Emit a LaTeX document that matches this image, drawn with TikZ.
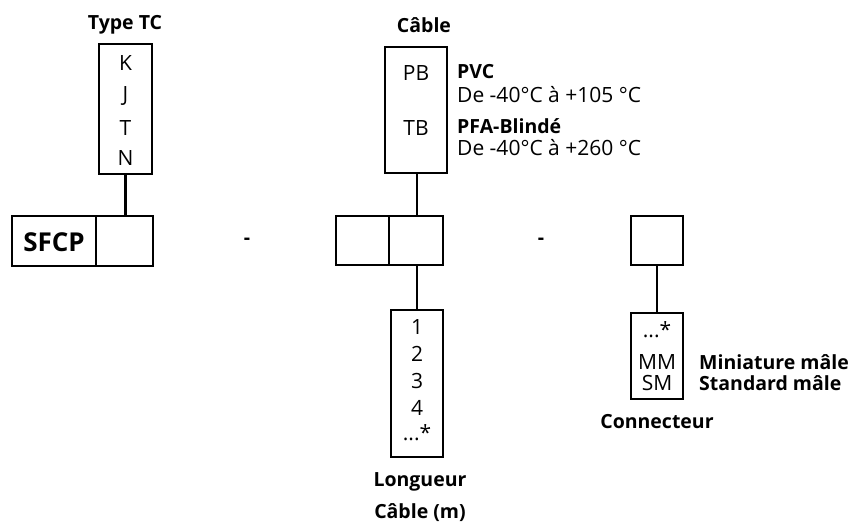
\documentclass[tikz,border=0pt]{standalone}
\usepackage{fontspec}
\setmainfont{Open Sans}
\tikzset{
  box/.style={draw, line width=2.6pt, minimum width=0pt, inner sep=0pt},
  lnk/.style={line width=2.6pt},
  txt/.style={inner sep=0pt, font=\fontsize{21}{24}\selectfont},
  lbl/.style={inner sep=0pt, font=\fontsize{19.5}{24}\selectfont\bfseries},
}
\begin{document}
\begin{tikzpicture}[x=1pt,y=-1pt]
\useasboundingbox (0,0) rectangle (850,524);
% Type TC
\node[lbl] (ttcl) at (125,25) {Type TC};
\draw[box] (99,44) rectangle (152,174);
\coordinate (ttcb) at (125.5,174);
\node[txt] (k) at (125.5,63) {K};
\node[txt] (j) at (125.5,96) {J};
\node[txt] (t) at (125.5,128) {T};
\node[txt] (n) at (125.5,158) {N};
% SFCP
\draw[box] (12,216) rectangle (153,266);
\draw[lnk] (96,216) -- (96,266);
\node[inner sep=0pt, font=\fontsize{26}{30}\selectfont\bfseries] (sfcp) at (54,242) {SFCP};
\coordinate (sfcpt) at (125.5,216);
\draw[lnk] (ttcb) -- (sfcpt);
\node[lbl] (d1) at (247,241) {-};
% Cable
\node[lbl] (cabl) at (424,25) {Câble};
\draw[box] (385,47) rectangle (447,173);
\coordinate (cabb) at (417,173);
\node[txt] (pb) at (416,73) {PB};
\node[txt] (tb) at (416,128) {TB};
\node[lbl, anchor=west] (pvc) at (457,72) {PVC};
\node[txt, anchor=west] (pvct) at (457,95) {De -40°C à +105 °C};
\node[lbl, anchor=west] (pfa) at (457,126) {PFA-Blindé};
\node[txt, anchor=west] (pfat) at (457,148) {De -40°C à +260 °C};
% middle row
\draw[box] (336,216) rectangle (443,265);
\draw[lnk] (389,216) -- (389,265);
\coordinate (midt) at (417,216);
\coordinate (midb) at (417,265);
\draw[lnk] (cabb) -- (midt);
% length box
\draw[box] (391,310) rectangle (443,457);
\coordinate (lent) at (417,310);
\draw[lnk] (midb) -- (lent);
\node[txt] (l1) at (417,327) {1};
\node[txt] (l2) at (417,354) {2};
\node[txt] (l3) at (417,381) {3};
\node[txt] (l4) at (417,408) {4};
\node[txt] (l5) at (417,433) {...*};
\node[lbl] (lenl1) at (420,482) {Longueur};
\node[lbl] (lenl2) at (420,513) {Câble (m)};
\node[lbl] (d2) at (541,241) {-};
% connector
\draw[box] (631,216) rectangle (683,265);
\coordinate (cont) at (657,265);
\draw[box] (631,313) rectangle (683,399);
\coordinate (conb) at (657,313);
\draw[lnk] (cont) -- (conb);
\node[txt] (c1) at (657,330) {...*};
\node[txt] (c2) at (657,362) {MM};
\node[txt] (c3) at (657,383) {SM};
\node[lbl, anchor=west] (mm) at (699,362) {Miniature mâle};
\node[lbl, anchor=west] (sm) at (699,383) {Standard mâle};
\node[lbl] (conl) at (657,422) {Connecteur};
\end{tikzpicture}
\end{document}
